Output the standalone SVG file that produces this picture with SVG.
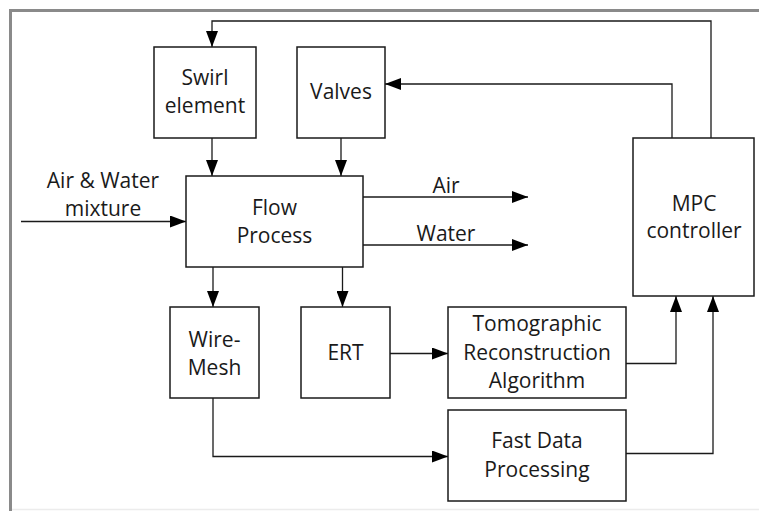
<svg xmlns="http://www.w3.org/2000/svg" width="759" height="511" viewBox="0 0 759 511">
<style>
.box{fill:#fff;stroke:#1a1a1a;stroke-width:1.5}
.ln{fill:none;stroke:#1a1a1a;stroke-width:1.3}
text{font-family:"Open Sans","Liberation Sans",sans-serif;font-size:21px;fill:#1a1a1a;text-anchor:middle}
</style>
<defs>
<marker id="ah" markerUnits="userSpaceOnUse" markerWidth="16" markerHeight="12" refX="16" refY="6" orient="auto">
<path d="M0,0 L16,6 L0,12 z" fill="#000"/>
</marker>
</defs>
<rect width="759" height="511" fill="#fff"/>
<g id="frame">
<line x1="10.5" y1="9" x2="10.5" y2="511" stroke="#8a8a8a" stroke-width="3"/>
<line x1="9" y1="10.5" x2="759" y2="10.5" stroke="#8a8a8a" stroke-width="3"/>
<line x1="12" y1="509.5" x2="759" y2="509.5" stroke="#ececec" stroke-width="1.5"/>
</g>
<g id="connectors">
<polyline class="ln" points="711,138 711,21 212,21 212,47" marker-end="url(#ah)"/>
<polyline class="ln" points="672,138 672,84 385,84" marker-end="url(#ah)"/>
<line class="ln" x1="212" y1="138" x2="212" y2="176" marker-end="url(#ah)"/>
<line class="ln" x1="341" y1="138" x2="341" y2="176" marker-end="url(#ah)"/>
<line class="ln" x1="21" y1="221.5" x2="186" y2="221.5" marker-end="url(#ah)"/>
<line class="ln" x1="363" y1="197" x2="528" y2="197" marker-end="url(#ah)"/>
<line class="ln" x1="363" y1="245" x2="528" y2="245" marker-end="url(#ah)"/>
<line class="ln" x1="213" y1="267" x2="213" y2="307" marker-end="url(#ah)"/>
<line class="ln" x1="342.5" y1="267" x2="342.5" y2="307" marker-end="url(#ah)"/>
<line class="ln" x1="390" y1="353.5" x2="448" y2="353.5" marker-end="url(#ah)"/>
<polyline class="ln" points="213,398 213,456.5 448,456.5" marker-end="url(#ah)"/>
<polyline class="ln" points="626,363.5 676,363.5 676,296" marker-end="url(#ah)"/>
<polyline class="ln" points="626,453.5 713,453.5 713,296" marker-end="url(#ah)"/>
</g>
<g id="label-mixture">
<text x="103" y="188">Air &amp; Water</text>
<text x="103" y="216">mixture</text>
</g>
<g id="label-air"><text x="446" y="193">Air</text></g>
<g id="label-water"><text x="446" y="240.5">Water</text></g>
<g id="swirl">
<rect class="box" x="154" y="47" width="102" height="91"/>
<text x="205" y="85">Swirl</text>
<text x="205" y="113">element</text>
</g>
<g id="valves">
<rect class="box" x="297" y="47" width="88" height="91"/>
<text x="341" y="99">Valves</text>
</g>
<g id="flow">
<rect class="box" x="186" y="176" width="177" height="91"/>
<text x="274.5" y="215">Flow</text>
<text x="274.5" y="243">Process</text>
</g>
<g id="mpc">
<rect class="box" x="633" y="138" width="121" height="158"/>
<text x="694" y="210.5">MPC</text>
<text x="694" y="237.5">controller</text>
</g>
<g id="wiremesh">
<rect class="box" x="170" y="307" width="89" height="91"/>
<text x="214.5" y="346.5">Wire-</text>
<text x="214.5" y="374.5">Mesh</text>
</g>
<g id="ert">
<rect class="box" x="301" y="307" width="89" height="91"/>
<text x="345.5" y="360">ERT</text>
</g>
<g id="tomo">
<rect class="box" x="448" y="307" width="178" height="91"/>
<text x="537" y="331">Tomographic</text>
<text x="537" y="360">Reconstruction</text>
<text x="537" y="387.5">Algorithm</text>
</g>
<g id="fast">
<rect class="box" x="448" y="410" width="178" height="91"/>
<text x="537" y="447.5">Fast Data</text>
<text x="537" y="476.5">Processing</text>
</g>
</svg>
